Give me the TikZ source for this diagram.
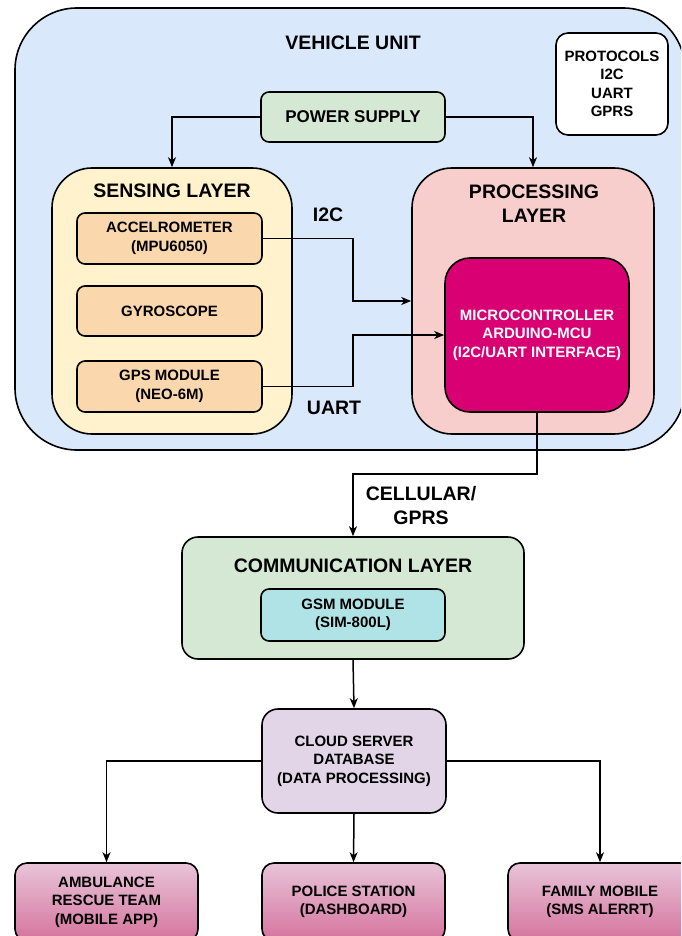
\documentclass[tikz,border=0pt]{standalone}
\usepackage{fontspec}
\setmainfont{Liberation Sans}
\usetikzlibrary{arrows.meta}
\definecolor{vehfill}{HTML}{DAE8FC}
\definecolor{greenfill}{HTML}{D5E8D4}
\definecolor{sensfill}{HTML}{FFF2CC}
\definecolor{orangefill}{HTML}{FAD7AC}
\definecolor{procfill}{HTML}{F8CECC}
\definecolor{mcufill}{HTML}{D80073}
\definecolor{gsmfill}{HTML}{B0E3E6}
\definecolor{cloudfill}{HTML}{E1D5E7}
\definecolor{pinktop}{HTML}{E8C4D9}
\definecolor{pinkbot}{HTML}{D5739D}
\tikzset{
  box/.style={draw=black, line width=1.6pt, rounded corners=#1, inner sep=0pt, align=center,
    font=\bfseries\fontsize{15}{18.5}\selectfont},
  title/.style={inner sep=0pt, align=center, font=\bfseries\fontsize{19.5}{24}\selectfont},
  arr/.style={line width=1.5pt, -{Stealth[length=10pt,width=8pt,inset=3pt]}},
}
\begin{document}
\begin{tikzpicture}[x=1pt,y=-1pt]
\useasboundingbox (0,0) rectangle (681,936);
\clip (0,0) rectangle (681,936);
\fill[white] (0,0) rectangle (681,936);

% vehicle unit
\node[box=62pt, fill=vehfill, minimum width=670pt, minimum height=442pt] (veh) at (350,229) {};
\node[title] (vtitle) at (353,43) {VEHICLE UNIT};
\node[box=12pt, fill=white, minimum width=112pt, minimum height=102pt] (proto) at (612,84) {PROTOCOLS\\I2C\\UART\\GPRS};
\node[box=8pt, fill=greenfill, minimum width=184pt, minimum height=50pt, font=\bfseries\fontsize{17}{20}\selectfont] (power) at (353,117) {POWER SUPPLY};

% sensing layer
\node[box=40pt, fill=sensfill, minimum width=240pt, minimum height=266pt] (sens) at (172,301) {};
\node[title] (stitle) at (172,191) {SENSING LAYER};
\node[box=8pt, fill=orangefill, minimum width=185pt, minimum height=51pt] (accel) at (169.5,238.5) {ACCELROMETER\\(MPU6050)};
\node[box=8pt, fill=orangefill, minimum width=185pt, minimum height=50pt] (gyro) at (169.5,311) {GYROSCOPE};
\node[box=8pt, fill=orangefill, minimum width=185pt, minimum height=51pt] (gps) at (169.5,386.5) {GPS MODULE\\(NEO-6M)};

% processing layer
\node[box=40pt, fill=procfill, minimum width=242pt, minimum height=266pt] (proc) at (533,301) {};
\node[title] (ptitle) at (534,204) {PROCESSING\\LAYER};
\node[box=25pt, fill=mcufill, text=white, minimum width=184pt, minimum height=154pt] (mcu) at (537,335) {MICROCONTROLLER\\ARDUINO-MCU\\(I2C/UART INTERFACE)};

% communication layer
\node[box=16pt, fill=greenfill, minimum width=342pt, minimum height=122pt] (comm) at (353,598) {};
\node[title] (ctitle) at (353,566) {COMMUNICATION LAYER};
\node[box=8pt, fill=gsmfill, minimum width=184pt, minimum height=52pt] (gsm) at (353,615) {GSM MODULE\\(SIM-800L)};

% cloud
\node[box=16pt, fill=cloudfill, minimum width=184pt, minimum height=104pt] (cloud) at (354,761) {CLOUD SERVER\\DATABASE\\(DATA PROCESSING)};

% outputs
\node[box=12pt, top color=pinktop, bottom color=pinkbot, minimum width=183pt, minimum height=78pt] (amb) at (106.5,902) {AMBULANCE\\RESCUE TEAM\\(MOBILE APP)};
\node[box=12pt, top color=pinktop, bottom color=pinkbot, minimum width=183pt, minimum height=78pt] (pol) at (353.5,902) {POLICE STATION\\(DASHBOARD)};
\node[box=12pt, top color=pinktop, bottom color=pinkbot, minimum width=184pt, minimum height=78pt] (fam) at (600,902) {FAMILY MOBILE\\(SMS ALERRT)};

% labels
\node[title] (li2c) at (328,215) {I2C};
\node[title] (luart) at (334,408) {UART};
\node[title] (lcell) at (421,505.5) {CELLULAR/\\GPRS};

% connectors
\coordinate (busx) at (353,0);
\draw[arr] (power.west) -| (sens.north);
\draw[arr] (power.east) -| (proc.north);
\draw[arr] (accel.east) -- (accel.east -| busx) |- (proc.west);
\draw[arr] (gps.east) -- (gps.east -| busx) |- (mcu.west);
\draw[arr] (mcu.south) -- ++(0,61) -| (comm.north);
\draw[arr] (comm.south) -- (cloud.north);
\draw[arr] (cloud.west) -| (amb.north);
\draw[arr] (cloud.east) -| (fam.north);
\draw[arr] (cloud.south) -- (pol.north);
\end{tikzpicture}
\end{document}
